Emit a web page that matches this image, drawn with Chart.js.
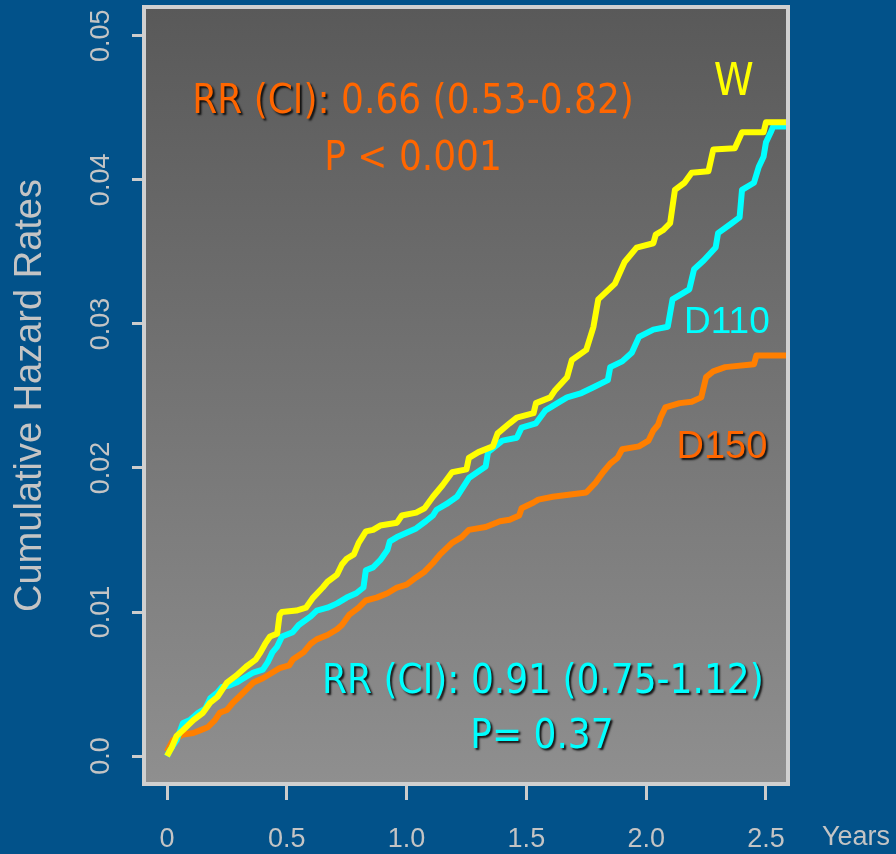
<!DOCTYPE html>
<html>
<head>
<meta charset="utf-8">
<script src="https://cdn.jsdelivr.net/npm/chart.js@4.4.0/dist/chart.umd.min.js"></script>
<style>
  html, body { margin: 0; padding: 0; background: #02528a; }
  #wrap { width: 896px; height: 854px; }
</style>
</head>
<body>
<div id="wrap"><canvas id="chart" width="896" height="854"></canvas></div>
<script>
// Follow-up time in years and cumulative hazard for each treatment arm
const wTime = [0, 0.02, 0.04, 0.067, 0.11, 0.15, 0.18, 0.21, 0.23, 0.25, 0.29, 0.33, 0.37, 0.39, 0.41, 0.43, 0.46, 0.47, 0.48, 0.54, 0.58, 0.61, 0.65, 0.67, 0.71, 0.73, 0.75, 0.78, 0.80, 0.83, 0.86, 0.89, 0.96, 0.98, 1.04, 1.075, 1.11, 1.15, 1.19, 1.25, 1.26, 1.30, 1.36, 1.38, 1.43, 1.46, 1.53, 1.54, 1.60, 1.62, 1.67, 1.69, 1.75, 1.78, 1.80, 1.87, 1.91, 1.96, 2.03, 2.04, 2.07, 2.10, 2.12, 2.16, 2.19, 2.26, 2.28, 2.37, 2.40, 2.49, 2.50, 2.59];
const wHaz = [0, 0.0006, 0.0014, 0.0018, 0.0025, 0.0030, 0.0037, 0.0041, 0.0046, 0.0051, 0.0056, 0.0062, 0.0067, 0.0072, 0.0078, 0.0083, 0.0085, 0.0098, 0.0100, 0.0101, 0.0103, 0.0110, 0.0117, 0.0121, 0.0126, 0.0133, 0.0137, 0.0140, 0.0148, 0.0156, 0.0157, 0.0160, 0.0162, 0.0167, 0.0169, 0.0172, 0.0180, 0.0188, 0.0197, 0.0199, 0.0207, 0.0211, 0.0215, 0.0224, 0.0231, 0.0235, 0.0238, 0.0245, 0.0249, 0.0254, 0.0263, 0.0275, 0.0282, 0.0298, 0.0317, 0.0328, 0.0343, 0.0353, 0.0356, 0.0362, 0.0365, 0.0370, 0.0393, 0.0398, 0.0405, 0.0406, 0.0421, 0.0422, 0.0433, 0.0433, 0.0440, 0.0440];

const d110Time = [0, 0.012, 0.04, 0.067, 0.096, 0.13, 0.16, 0.18, 0.21, 0.23, 0.26, 0.29, 0.32, 0.36, 0.40, 0.42, 0.44, 0.46, 0.48, 0.525, 0.55, 0.60, 0.625, 0.67, 0.71, 0.75, 0.79, 0.82, 0.83, 0.86, 0.89, 0.92, 0.93, 0.96, 1.0, 1.04, 1.08, 1.11, 1.125, 1.167, 1.21, 1.26, 1.33, 1.34, 1.40, 1.46, 1.48, 1.54, 1.58, 1.64, 1.67, 1.73, 1.78, 1.84, 1.85, 1.90, 1.94, 1.97, 2.03, 2.09, 2.11, 2.14, 2.18, 2.20, 2.24, 2.29, 2.30, 2.35, 2.39, 2.40, 2.45, 2.47, 2.49, 2.50, 2.52, 2.53, 2.59];
const d110Haz = [0, 0.0004, 0.0011, 0.0023, 0.0025, 0.0030, 0.0033, 0.0040, 0.0044, 0.0048, 0.0049, 0.0051, 0.0054, 0.0058, 0.0060, 0.0065, 0.0072, 0.0076, 0.0083, 0.0086, 0.0091, 0.0097, 0.0101, 0.0103, 0.0106, 0.0110, 0.0113, 0.0117, 0.0129, 0.0131, 0.0136, 0.0143, 0.0149, 0.0152, 0.0155, 0.0158, 0.0163, 0.0167, 0.0171, 0.0175, 0.0180, 0.0193, 0.0201, 0.0211, 0.0219, 0.0221, 0.0228, 0.0231, 0.0240, 0.0246, 0.0249, 0.0252, 0.0256, 0.0261, 0.0270, 0.0274, 0.0280, 0.0291, 0.0296, 0.0298, 0.0317, 0.0320, 0.0324, 0.0338, 0.0344, 0.0353, 0.0363, 0.0369, 0.0374, 0.0393, 0.0398, 0.0409, 0.0416, 0.0426, 0.0433, 0.0437, 0.0437];

const d150Time = [0, 0.025, 0.067, 0.11, 0.14, 0.17, 0.20, 0.22, 0.25, 0.275, 0.30, 0.33, 0.36, 0.40, 0.44, 0.47, 0.51, 0.525, 0.57, 0.60, 0.625, 0.67, 0.71, 0.73, 0.76, 0.80, 0.83, 0.875, 0.92, 0.96, 1.0, 1.04, 1.075, 1.11, 1.14, 1.19, 1.23, 1.26, 1.33, 1.39, 1.43, 1.47, 1.48, 1.53, 1.55, 1.61, 1.75, 1.79, 1.82, 1.85, 1.88, 1.90, 1.97, 2.01, 2.03, 2.05, 2.06, 2.08, 2.14, 2.19, 2.23, 2.25, 2.28, 2.33, 2.45, 2.46, 2.59];
const d150Haz = [0.0003, 0.0011, 0.0015, 0.0016, 0.0018, 0.0020, 0.0025, 0.0030, 0.0032, 0.0037, 0.0041, 0.0046, 0.0051, 0.0054, 0.0058, 0.0061, 0.0063, 0.0067, 0.0072, 0.0078, 0.0081, 0.0084, 0.0088, 0.0091, 0.0098, 0.0103, 0.0108, 0.0110, 0.0113, 0.0117, 0.0119, 0.0124, 0.0128, 0.0134, 0.0140, 0.0148, 0.0152, 0.0157, 0.0159, 0.0163, 0.0164, 0.0167, 0.0172, 0.0176, 0.0178, 0.0180, 0.0183, 0.0190, 0.0197, 0.0203, 0.0207, 0.0213, 0.0215, 0.0219, 0.0226, 0.0230, 0.0235, 0.0242, 0.0245, 0.0246, 0.0249, 0.0263, 0.0267, 0.0270, 0.0272, 0.0278, 0.0278];

// Axis ticks
const xTickValues = [0, 0.5, 1.0, 1.5, 2.0, 2.5];
const xTickLabels = ['0', '0.5', '1.0', '1.5', '2.0', '2.5'];
const yTickValues = [0, 0.01, 0.02, 0.03, 0.04, 0.05];
const yTickLabels = ['0.0', '0.01', '0.02', '0.03', '0.04', '0.05'];

const toPoints = (xs, ys) => xs.map((x, i) => ({ x: x, y: ys[i] }));

const AXIS_GREY = '#cccccc';
const TEXT_GREY = '#c4c4c4';
const CONDENSED = '"DejaVu Sans Condensed", "DejaVu Sans", sans-serif';
const ARIAL = '"Liberation Sans", Arial, sans-serif';

// Text placed on the plot, anchored in data coordinates (centre of the line)
const notes = [
  { x: 1.027, y: 0.04535, font: '40px ' + CONDENSED, color: '#ff6600',
    parts: [{ t: 'RR (CI):', shadow: true }, { t: ' 0.66 (0.53-0.82)', shadow: false }] },
  { x: 1.027, y: 0.04139, font: '40px ' + CONDENSED, color: '#ff6600',
    parts: [{ t: 'P < 0.001', shadow: false }] },
  { x: 2.366, y: 0.04667, font: '45px ' + CONDENSED, color: '#ffff00',
    parts: [{ t: 'W', shadow: false }] },
  { x: 2.337, y: 0.03007, font: '37px ' + ARIAL, color: '#00ffff',
    parts: [{ t: 'D110', shadow: false }] },
  { x: 2.316, y: 0.02139, font: '38px ' + ARIAL, color: '#ff6600',
    parts: [{ t: 'D150', shadow: true }] },
  { x: 1.569, y: 0.00507, font: '40px ' + CONDENSED, color: '#00ffff',
    parts: [{ t: 'RR (CI): 0.91 (0.75-1.12)', shadow: true }] },
  { x: 1.565, y: 0.00125, font: '40px ' + CONDENSED, color: '#00ffff',
    parts: [{ t: 'P= 0.37', shadow: true }] }
];

const framePlugin = {
  id: 'frame',
  beforeDraw(chart) {
    const { ctx, chartArea: a } = chart;
    ctx.save();
    ctx.fillStyle = '#02528a';
    ctx.fillRect(0, 0, chart.width, chart.height);
    const g = ctx.createLinearGradient(0, a.top, 0, a.bottom);
    g.addColorStop(0, '#595959');
    g.addColorStop(1, '#8f8f8f');
    ctx.fillStyle = g;
    ctx.fillRect(a.left, a.top, a.right - a.left, a.bottom - a.top);
    ctx.restore();
  },
  afterDatasetsDraw(chart) {
    const { ctx, chartArea: a, scales } = chart;
    ctx.save();
    // plot frame
    ctx.strokeStyle = '#d0d0d0';
    ctx.lineWidth = 4;
    ctx.strokeRect(a.left, a.top, a.right - a.left, a.bottom - a.top);

    // unit label beside the last x tick
    ctx.font = '27px ' + ARIAL;
    ctx.fillStyle = TEXT_GREY;
    ctx.textAlign = 'left';
    ctx.textBaseline = 'middle';
    ctx.fillText('Years', a.right + 34, a.bottom + 54);

    // annotations
    notes.forEach(n => {
      ctx.font = n.font;
      ctx.textBaseline = 'middle';
      ctx.textAlign = 'left';
      const total = n.parts.reduce((s, p) => s + ctx.measureText(p.t).width, 0);
      let x = scales.x.getPixelForValue(n.x) - total / 2;
      const y = scales.y.getPixelForValue(n.y);
      n.parts.forEach(p => {
        ctx.save();
        if (p.shadow) {
          ctx.shadowColor = 'rgba(0,0,0,0.85)';
          ctx.shadowOffsetX = 2;
          ctx.shadowOffsetY = 2;
          ctx.shadowBlur = 2;
        }
        ctx.fillStyle = n.color;
        ctx.fillText(p.t, x, y);
        ctx.restore();
        x += ctx.measureText(p.t).width;
      });
    });
    ctx.restore();
  }
};

const lineStyle = {
  stepped: false,
  borderWidth: 6,
  borderJoinStyle: 'round',
  pointRadius: 0,
  pointHoverRadius: 0,
  fill: false,
  tension: 0
};

new Chart(document.getElementById('chart'), {
  type: 'line',
  data: {
    datasets: [
      Object.assign({ label: 'W', data: toPoints(wTime, wHaz), borderColor: '#ffff00', order: 1 }, lineStyle),
      Object.assign({ label: 'D110', data: toPoints(d110Time, d110Haz), borderColor: '#00ffff', order: 2 }, lineStyle),
      Object.assign({ label: 'D150', data: toPoints(d150Time, d150Haz), borderColor: '#ff7f00', order: 3 }, lineStyle)
    ]
  },
  options: {
    responsive: false,
    animation: false,
    devicePixelRatio: 1,
    layout: { padding: { top: 7, right: 108, left: 0, bottom: 0 } },
    plugins: { legend: { display: false }, tooltip: { enabled: false } },
    scales: {
      x: {
        type: 'linear',
        min: -0.096,
        max: 2.592,
        afterBuildTicks: s => { s.ticks = xTickValues.map(v => ({ value: v })); },
        afterFit: s => { s.height = 70; s.paddingLeft = 0; s.paddingRight = 0; },
        grid: { display: true, drawOnChartArea: false, drawTicks: true, tickLength: 16, color: AXIS_GREY, lineWidth: 3 },
        border: { display: false },
        ticks: {
          autoSkip: false, maxRotation: 0, minRotation: 0, padding: 23,
          color: TEXT_GREY, font: { family: ARIAL, size: 27 },
          callback: (v, i) => xTickLabels[i]
        }
      },
      y: {
        type: 'linear',
        min: -0.00194,
        max: 0.052,
        afterBuildTicks: s => { s.ticks = yTickValues.map(v => ({ value: v })); },
        afterFit: s => { s.width = 144; s.paddingTop = 0; s.paddingBottom = 0; },
        grid: { display: true, drawOnChartArea: false, drawTicks: true, tickLength: 12, color: AXIS_GREY, lineWidth: 3 },
        border: { display: false },
        ticks: {
          autoSkip: false, minRotation: 90, maxRotation: 90, crossAlign: 'center', padding: 4,
          color: TEXT_GREY, font: { family: ARIAL, size: 27 },
          callback: (v, i) => yTickLabels[i]
        },
        title: {
          display: true, text: 'Cumulative Hazard Rates', color: TEXT_GREY,
          font: { family: ARIAL, size: 38 }, padding: { top: 8, bottom: 0 }
        }
      }
    }
  },
  plugins: [framePlugin]
});
</script>
</body>
</html>
